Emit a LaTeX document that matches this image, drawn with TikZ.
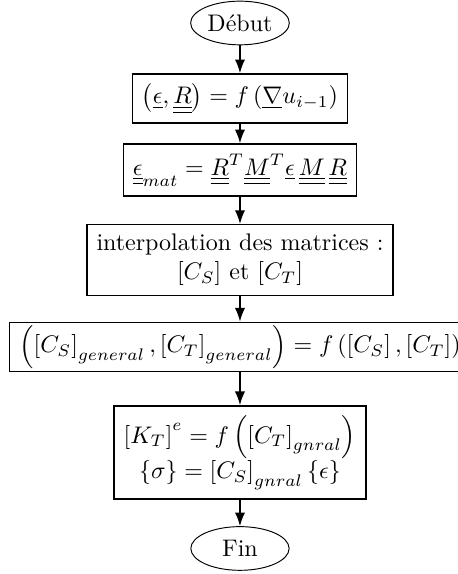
\documentclass[tikz,border=0pt]{standalone}
\usepackage{tikz}
\usetikzlibrary{arrows.meta, positioning, shapes.geometric}
\usepackage{amsmath, amssymb}

\begin{document}
\begin{tikzpicture}[
  arr/.style={-{Latex[length=2mm]}, semithick},
  etape/.style={draw, semithick, rectangle, align=center, inner sep=4pt},
  borne/.style={draw, ellipse, inner sep=1pt, minimum width=1.44cm, minimum height=0.64cm},
]
  \useasboundingbox (0, 0) rectangle (6.71, -8.41);

  \node[borne] (debut) at (3.516, -0.337) {Début};
  \node[etape] (gradient) at (3.516, -1.443)
       {$\left(\underline{\epsilon}, \underline{\underline{R}}\right) = f\left(\underline{\nabla} u_{i-1}\right)$};
  \node[etape] (rotation) at (3.516, -2.49)
       {$\underline{\underline{\epsilon}}_{mat} = \underline{\underline{R}}^T \underline{\underline{M}}^T \underline{\epsilon}\, \underline{\underline{M}}\, \underline{\underline{R}}$};
  \node[etape] (interp) at (3.516, -3.809)
       {interpolation des matrices :\\ $[C_S]$ et $[C_T]$};
  \node[etape, inner ysep=1.3pt] (general) at (3.516, -5.084)
       {$\left(\left[C_S\right]_{general}, \left[C_T\right]_{general}\right) = f\left(\left[C_S\right], \left[C_T\right]\right)$};
  \node[etape] (rigidite) at (3.516, -6.629)
       {$\left[K_T\right]^e = f\left(\left[C_T\right]_{gnral}\right)$\\ $\left\{\sigma\right\} = \left[C_S\right]_{gnral}\left\{\epsilon\right\}$};
  \node[borne] (fin) at (3.516, -8.036) {Fin};

  \draw[arr] (debut) -- (gradient);
  \draw[arr] (gradient) -- (rotation);
  \draw[arr] (rotation) -- (interp);
  \draw[arr] (interp) -- (general);
  \draw[arr] (general) -- (rigidite);
  \draw[arr] (rigidite) -- (fin);
\end{tikzpicture}
\end{document}
